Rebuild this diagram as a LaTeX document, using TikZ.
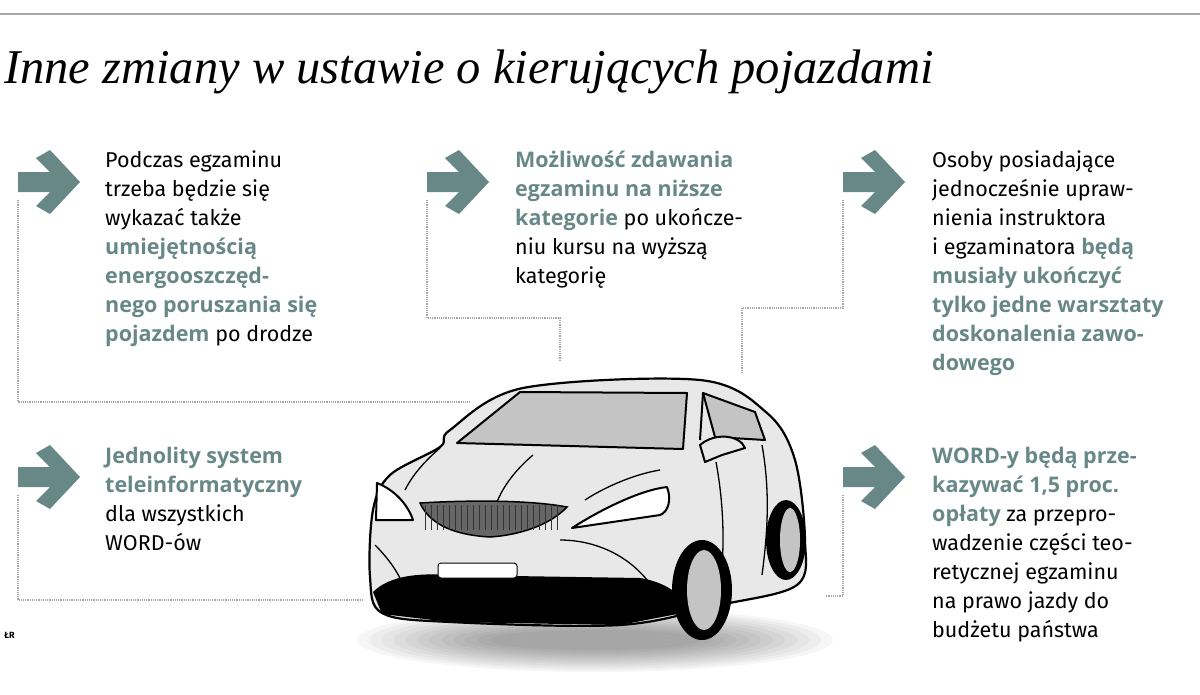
\documentclass[tikz,border=0pt]{standalone}
\usepackage{fontspec}
\setmainfont{Fira Sans}
\newfontfamily\titlefont{Liberation Serif}
\newfontfamily\hlfont{Open Sans}
\usetikzlibrary{positioning}
\definecolor{accent}{RGB}{104,136,136}
\definecolor{bodycol}{RGB}{232,232,232}
\definecolor{glass}{RGB}{196,196,196}
\newcommand{\hl}[1]{{\hlfont\bfseries\color{accent}#1}}

\begin{document}
\begin{tikzpicture}[x=1pt,y=-1pt,
    infotext/.style={anchor=north west, inner sep=0pt, align=left, font=\fontsize{21.5}{29}\selectfont},
    dotline/.style={densely dotted, line width=1.2pt, gray!70},
    carline/.style={line width=2pt, draw=black, line join=round}]
    \useasboundingbox (0,0) rectangle (1200,694);

    % Top rule and title
    \draw[gray!70, line width=2pt] (0,14) -- (1200,14);
    \node[anchor=base west, inner sep=0pt, font=\titlefont\itshape\fontsize{48.5}{52}\selectfont] (title) at (4,83) {Inne zmiany w ustawie o kierujących pojazdami};

    % Arrows
    \foreach \name/\ax/\ay in {arrA/18/150, arrB/427/150, arrC/843/150, arrD/18/445, arrE/843/445}{
        \fill[accent] (\ax,\ay+22) -- ++(32,0) -- ++(-14,-14) -- ++(14,-8) -- ++(30,32)
            -- ++(-30,32) -- ++(-14,-8) -- ++(14,-14) -- ++(-32,0) -- cycle;
        \coordinate (\name) at (\ax,\ay+50);
    }

    % Texts
    \node[infotext] (txtA) at (105,151) {Podczas egzaminu\\trzeba będzie się\\wykazać także\\\hl{umiejętnością}\\\hl{energooszczęd-}\\\hl{nego poruszania się}\\\hl{pojazdem} po drodze};
    \node[infotext] (txtB) at (515,151) {\hl{Możliwość zdawania}\\\hl{egzaminu na niższe}\\\hl{kategorie} po ukończe-\\niu kursu na wyższą\\kategorię};
    \node[infotext] (txtC) at (932,151) {Osoby posiadające\\jednocześnie upraw-\\nienia instruktora\\i egzaminatora \hl{będą}\\\hl{musiały ukończyć}\\\hl{tylko jedne warsztaty}\\\hl{doskonalenia zawo-}\\\hl{dowego}};
    \node[infotext] (txtD) at (105,447) {\hl{Jednolity system}\\\hl{teleinformatyczny}\\dla wszystkich\\WORD-ów};
    \node[infotext] (txtE) at (932,447) {\hl{WORD-y będą prze-}\\\hl{kazywać 1,5 proc.}\\\hl{opłaty} za przepro-\\wadzenie części teo-\\retycznej egzaminu\\na prawo jazdy do\\budżetu państwa};
    \node[anchor=base west, inner sep=0pt, font=\bfseries\fontsize{9}{10}\selectfont] (credit) at (4,638) {ŁR};

    % Connector ends near the car
    \coordinate (endA) at (470,402);
    \coordinate (endB) at (560,360);
    \coordinate (endC) at (742,372);
    \coordinate (endD) at (362,600);
    \coordinate (endE) at (826,596);

    % Car shadow
    \foreach \k in {1,...,12}{
        \fill[black, opacity=0.035] (595,640) ellipse ({250-12*\k} and {34-2*\k});
    }

    % Car body
    \fill[bodycol, draw=black, line width=2.2pt] plot[smooth cycle, tension=0.55] coordinates {
        (450,430) (523,388) (700,380) (767,413) (795,460) (805,540) (797,585)
        (720,605) (620,625) (450,622) (382,613) (370,577) (373,510) (390,475) (440,447)};
    % windows
    \filldraw[fill=glass, carline] (457,443) -- (520,392) -- (687,393) -- (683,449) -- cycle;
    \filldraw[fill=glass, carline] (703,393) -- (755,412) -- (765,440) -- (715,437) -- cycle;
    \draw[carline] (703,393) -- (700,440);
    % mirror
    \filldraw[fill=bodycol, carline] (700,445) .. controls (715,432) and (740,435) .. (745,448) -- (722,455) -- (705,462) -- cycle;
    % hood and door lines
    \draw[carline, line width=1.3pt] (533,455) .. controls (515,470) and (500,490) .. (495,508);
    \draw[carline, line width=1.3pt] (440,448) .. controls (420,465) and (410,480) .. (405,490);
    \draw[carline, line width=1.3pt] (660,470) .. controls (630,475) and (600,490) .. (585,500);
    \draw[carline, line width=1.3pt] (716,462) .. controls (725,510) and (725,560) .. (718,600);
    \draw[carline, line width=1.3pt] (762,445) .. controls (770,490) and (768,530) .. (762,575);
    \draw[carline, line width=1.3pt] (375,545) .. controls (390,560) and (400,575) .. (405,590);
    \draw[carline, line width=1.3pt] (560,540) .. controls (600,540) and (640,560) .. (660,600);
    % headlights
    \filldraw[fill=white, carline] (377,483) .. controls (395,490) and (408,505) .. (413,520) -- (376,520) -- cycle;
    \filldraw[fill=white, carline] (572,528) .. controls (600,510) and (640,490) .. (667,487) .. controls (672,500) and (668,512) .. (660,515) -- cycle;
    % grille
    \filldraw[fill=black!60, draw=black, line width=1.5pt] (420,503) .. controls (470,500) and (530,500) .. (567,507) .. controls (550,525) and (520,535) .. (490,537) .. controls (455,535) and (430,525) .. cycle;
    \foreach \gx in {425,431,...,560}{\draw[black!80, line width=0.8pt] (\gx,505) -- (\gx,530);}
    % bumper
    \fill[black] (373,592) .. controls (390,575) and (420,573) .. (450,575) -- (640,578)
        .. controls (665,582) and (685,595) .. (688,612) -- (620,625) -- (450,622) -- (382,614) -- cycle;
    \filldraw[fill=white, draw=black, line width=1pt, rounded corners=3pt] (438,563) rectangle (517,578);
    % wheels
    \fill[black] (702,590) ellipse (30 and 50);
    \fill[glass] (704,590) ellipse (17 and 40);
    \fill[black] (786,540) ellipse (20 and 40);
    \fill[glass] (790,540) ellipse (10 and 32);

    % Dotted connectors
    \draw[dotline] (arrA) -- (18,402) -- (endA);
    \draw[dotline] (arrB) -- (427,318) -- (560,318) -- (endB);
    \draw[dotline] (arrC) -- (843,308) -- (742,308) -- (endC);
    \draw[dotline] (arrD) -- (18,600) -- (endD);
    \draw[dotline] (arrE) -- (843,596) -- (endE);
\end{tikzpicture}
\end{document}
